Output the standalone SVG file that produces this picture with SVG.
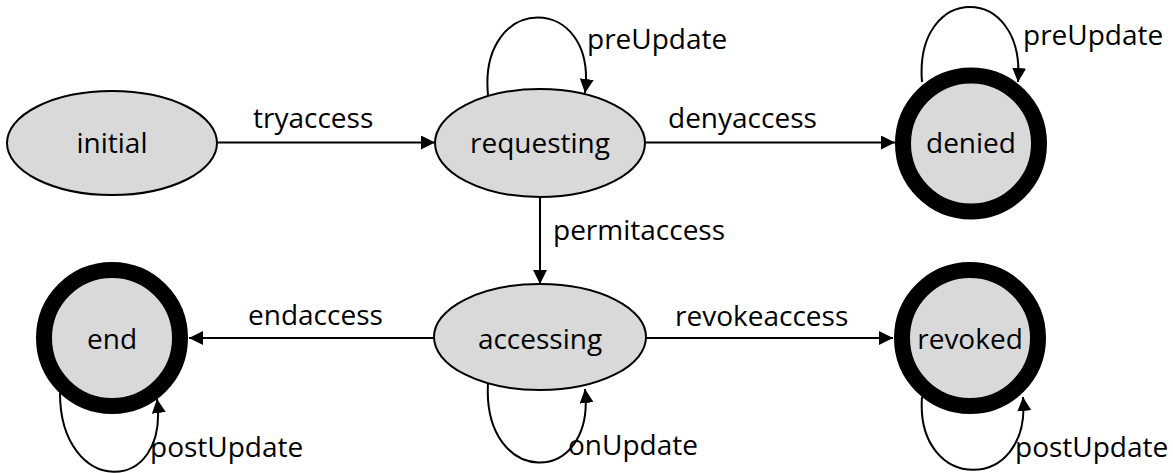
<svg xmlns="http://www.w3.org/2000/svg" width="1173" height="473" viewBox="0 0 1173 473">
  <defs>
    <marker id="arrow" markerUnits="userSpaceOnUse" markerWidth="15" markerHeight="14" refX="14" refY="7" orient="auto">
      <path d="M0,0 L14,7 L0,14 z" fill="#000"/>
    </marker>
    <style>
      .state { fill: #d9d9d9; stroke: #000; stroke-width: 2; }
      .final { fill: #d9d9d9; stroke: #000; stroke-width: 16; }
      .edge { fill: none; stroke: #000; stroke-width: 2; marker-end: url(#arrow); }
      text { font-family: "Open Sans", "Liberation Sans", sans-serif; font-size: 28px; fill: #000; }
      .name { text-anchor: middle; }
    </style>
  </defs>
  <rect width="1173" height="473" fill="#fff"/>

  <!-- transitions -->
  <g id="connectors">
    <path class="edge" d="M218,142.5 L435,142.5"/>
    <path class="edge" d="M645,142.5 L895,142.5"/>
    <path class="edge" d="M540,197 L540,284"/>
    <path class="edge" d="M434,338 L189,338"/>
    <path class="edge" d="M646,338 L893,338"/>
    <!-- self loops -->
    <path class="edge" d="M488,95 C478,-8 598,-8 585,93"/>
    <path class="edge" d="M922,82 C914,-18 1026,-18 1018,82"/>
    <path class="edge" d="M60,393 C60,497 170,497 157,399"/>
    <path class="edge" d="M488,383 C482,488 596,488 585,389"/>
    <path class="edge" d="M922,397 C915,494 1032,494 1023,397"/>
    <text x="253" y="128">tryaccess</text>
    <text x="668" y="128">denyaccess</text>
    <text x="553" y="240">permitaccess</text>
    <text x="248" y="325">endaccess</text>
    <text x="675" y="326">revokeaccess</text>
    <text x="587" y="49">preUpdate</text>
    <text x="1023" y="45">preUpdate</text>
    <text x="150" y="457">postUpdate</text>
    <text x="568" y="455">onUpdate</text>
    <text x="1015" y="457">postUpdate</text>
  </g>

  <g id="initial">
    <ellipse class="state" cx="112" cy="143" rx="105" ry="52"/>
    <text class="name" x="112" y="153">initial</text>
  </g>
  <g id="requesting">
    <ellipse class="state" cx="540" cy="143" rx="105" ry="54"/>
    <text class="name" x="540" y="153">requesting</text>
  </g>
  <g id="denied">
    <circle class="final" cx="971" cy="143.5" r="68"/>
    <text class="name" x="971" y="153">denied</text>
  </g>
  <g id="end">
    <circle class="final" cx="112" cy="338" r="68"/>
    <text class="name" x="112" y="349">end</text>
  </g>
  <g id="accessing">
    <ellipse class="state" cx="540" cy="337" rx="106" ry="53"/>
    <text class="name" x="540" y="349">accessing</text>
  </g>
  <g id="revoked">
    <circle class="final" cx="970" cy="338" r="68"/>
    <text class="name" x="970" y="349">revoked</text>
  </g>
</svg>
